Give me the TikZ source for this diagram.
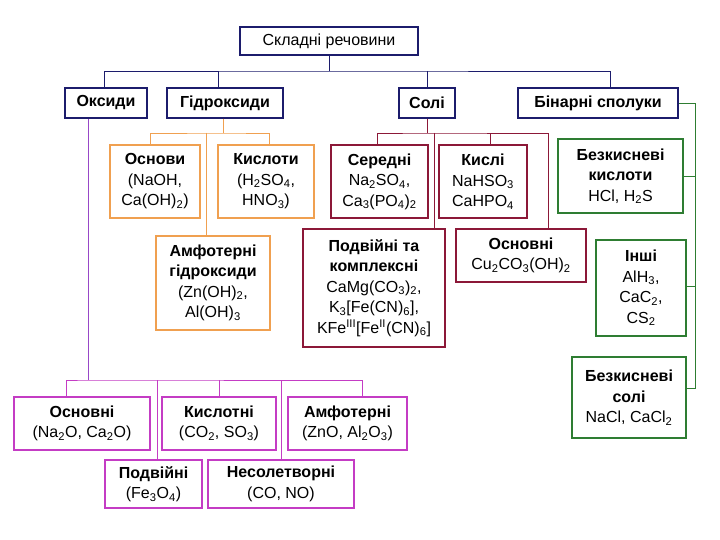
\documentclass[tikz,border=0pt]{standalone}
\usepackage{fontspec}
\setmainfont{Liberation Sans}
\newcommand{\lo}[1]{\textsubscript{#1}}
\newcommand{\hi}[1]{\textsuperscript{#1}}
\begin{document}
\begin{tikzpicture}[x=1pt,y=-1pt,line width=0.8pt,
  every node/.style={font=\fontsize{16}{20.5}\selectfont,align=center,inner sep=0pt,line width=1.2pt}]
\definecolor{cB}{HTML}{1C1C6C}
\definecolor{cO}{HTML}{F0A050}
\definecolor{cS}{HTML}{8C1838}
\definecolor{cG}{HTML}{2E7D32}
\definecolor{cM}{HTML}{C43CC4}
\definecolor{cV}{HTML}{9848C8}
\useasboundingbox[fill=white] (0,0) rectangle (720,540);
\newcommand{\bx}[7]{\node[draw=#6,minimum width={#4-#2},minimum height={#5-#3}] (#1) at ({(#2+#4)/2},{(#3+#5)/2}) {#7};}
\bx{top}{240}{27}{418}{55}{cB}{Складні речовини}
\bx{oks}{65}{88}{147}{118}{cB}{\textbf{Оксиди}}
\bx{gid}{167}{88}{283}{118}{cB}{\textbf{Гідроксиди}}
\bx{sol}{399}{88}{455}{118}{cB}{\textbf{Солі}}
\bx{bin}{518}{88}{678}{118}{cB}{\textbf{Бінарні сполуки}}
% hydroxides
\bx{osn}{110}{145}{200}{218}{cO}{\textbf{Основи}\\(NaOH,\\Ca(OH)\lo{2})}
\bx{kis}{218}{145}{314}{218}{cO}{\textbf{Кислоти}\\(H\lo{2}SO\lo{4},\\HNO\lo{3})}
\bx{amf}{156}{236}{270}{330}{cO}{\textbf{Амфотерні}\\\textbf{гідроксиди}\\(Zn(OH)\lo{2},\\Al(OH)\lo{3}}
% salts
\bx{ser}{331}{145}{428}{218}{cS}{\textbf{Середні}\\Na\lo{2}SO\lo{4},\\Ca\lo{3}(PO\lo{4})\lo{2}}
\bx{ksl}{439}{145}{527}{218}{cS}{\textbf{Кислі}\\NaHSO\lo{3}\\CaHPO\lo{4}}
\bx{pod}{303}{229}{445}{347}{cS}{\textbf{Подвійні та}\\\textbf{комплексні}\\CaMg(CO\lo{3})\lo{2},\\K\lo{3}[Fe(CN)\lo{6}],\\KFe\hi{III}[Fe\hi{II}(CN)\lo{6}]}
\bx{osl}{456}{229}{586}{282}{cS}{\textbf{Основні}\\Cu\lo{2}CO\lo{3}(OH)\lo{2}}
% binary
\bx{bkk}{558}{139}{683}{213}{cG}{\textbf{Безкисневі}\\\textbf{кислоти}\\HCl, H\lo{2}S}
\bx{inh}{596}{240}{686}{336}{cG}{\textbf{Інші}\\AlH\lo{3},\\CaC\lo{2},\\CS\lo{2}}
\bx{bks}{572}{357}{686}{438}{cG}{\textbf{Безкисневі}\\\textbf{солі}\\NaCl, CaCl\lo{2}}
% oxides
\bx{oo}{14}{397}{150}{450}{cM}{\textbf{Основні}\\(Na\lo{2}O, Ca\lo{2}O)}
\bx{ok}{162}{397}{276}{450}{cM}{\textbf{Кислотні}\\(CO\lo{2}, SO\lo{3})}
\bx{oa}{288}{397}{407}{450}{cM}{\textbf{Амфотерні}\\(ZnO, Al\lo{2}O\lo{3})}
\bx{op}{105}{460}{202}{508}{cM}{\textbf{Подвійні}\\(Fe\lo{3}O\lo{4})}
\bx{on}{208}{460}{354}{508}{cM}{\textbf{Несолетворні}\\(CO, NO)}
% connectors top
\coordinate (tb) at (329,71);
\draw[cB] (top.south) -- (tb);
\draw[cB] (oks.north -| 104,0) |- (tb) -| (bin.north -| 610,0);
\draw[cB] (gid.north -| 218,0) -- (218,71);
\draw[cB] (sol.north) -- (sol.north |- tb);
% hydroxides
\coordinate (hb) at (223,133);
\draw[cO] (gid.south -| hb) -- (hb);
\draw[cO] (osn.north -| 150,0) |- (hb) -| (kis.north -| 269,0);
\draw[cO] (206,133) -- (amf.north -| 206,0);
% salts
\coordinate (sb) at (427,133);
\draw[cS] (sol.south) -- (sb);
\draw[cS] (ser.north -| 377,0) |- (sb) -| (osl.north -| 548,0);
\draw[cS] (ksl.north -| 490,0) -- (490,133);
\draw[cS] (434,133) -- (pod.north -| 434,0);
% binary
\draw[cG] (bin.east) -| (695,388) -- (bks.east |- 0,388);
\draw[cG] (bkk.east) -- (bkk.east -| 695,0);
\draw[cG] (inh.east |- 0,286) -- (695,286);
% oxides
\coordinate (ob) at (88,380);
\draw[cV] (oks.south -| ob) -- (ob);
\draw[cM] (oo.north -| 66,0) |- (ob) -| (oa.north -| 362,0);
\draw[cM] (219,380) -- (ok.north -| 219,0);
\draw[cM] (157,380) -- (op.north -| 157,0);
\draw[cM] (281,380) -- (on.north -| 281,0);
\end{tikzpicture}
\end{document}
